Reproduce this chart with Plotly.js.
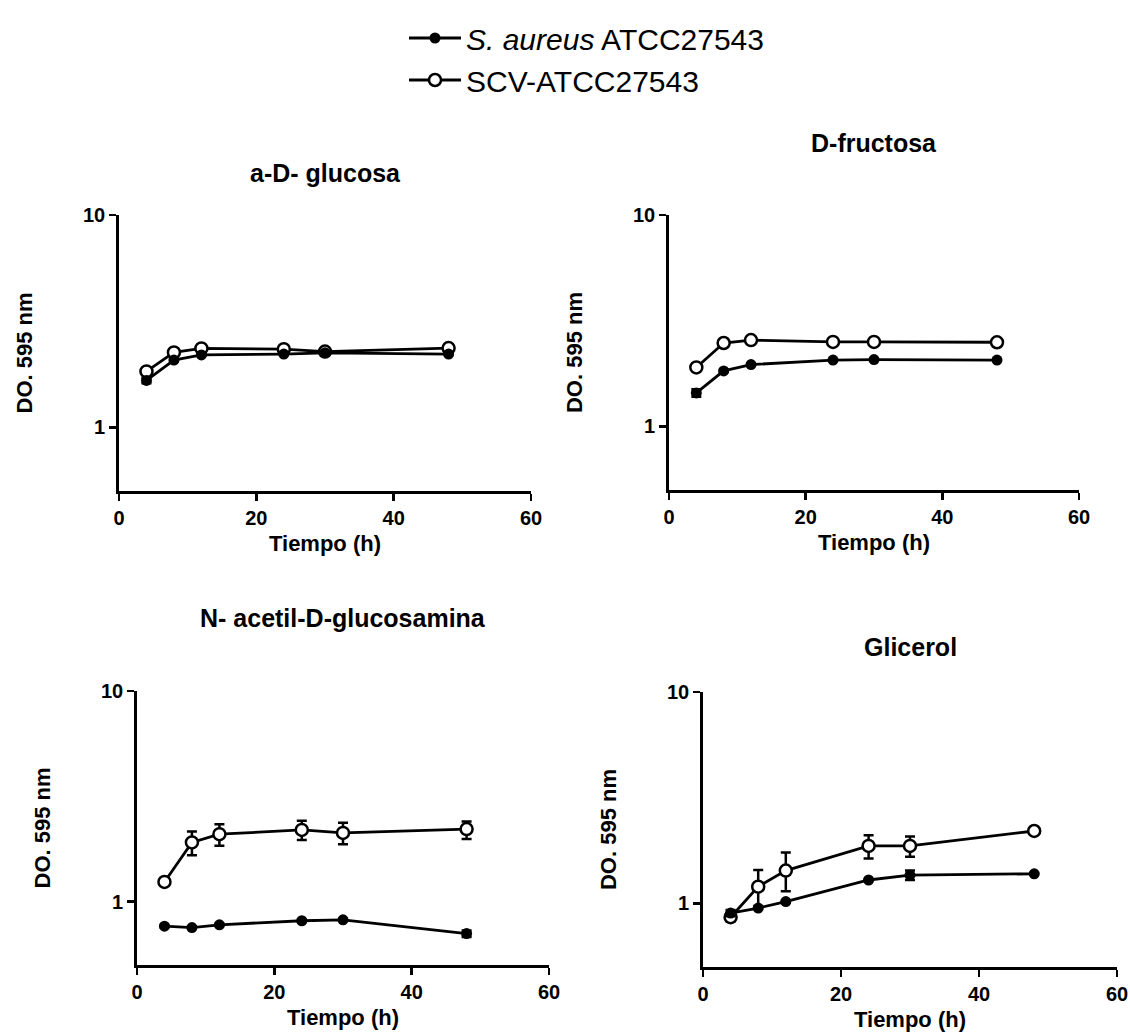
<!DOCTYPE html>
<html><head><meta charset="utf-8">
<script src="https://cdn.plot.ly/plotly-3.0.1.min.js"></script>
<style>html,body{margin:0;padding:0;background:#fff}</style>
</head><body>
<div id="chart" style="width:1130px;height:1033px"></div>
<script>
// ---- data ----
const timeH = [4, 8, 12, 24, 30, 48];
const panelTitles = ['a-D- glucosa', 'D-fructosa', 'N- acetil-D-glucosamina', 'Glicerol'];
const seriesNames = ['<i>S. aureus</i> ATCC27543', 'SCV-ATCC27543'];
const xTickVals = [0, 20, 40, 60];
const yTickVals = [1, 10];
const yTickText = ['1', '10'];
const xTitle = 'Tiempo (h)';
const yTitle = 'DO. 595 nm';

// a-D- glucosa
const glucosaWT = [1.66, 2.07, 2.19, 2.21, 2.24, 2.21];
const glucosaWTPlus = [0.05, 0.03, 0.02, 0.02, 0.02, 0.02];
const glucosaWTMinus = [0.05, 0.03, 0.02, 0.02, 0.02, 0.02];
const glucosaSCV = [1.83, 2.25, 2.35, 2.33, 2.27, 2.36];
const glucosaSCVPlus = [0.03, 0.03, 0.02, 0.02, 0.02, 0.02];
const glucosaSCVMinus = [0.03, 0.03, 0.02, 0.02, 0.02, 0.02];

// D-fructosa
const fructosaWT = [1.44, 1.83, 1.96, 2.06, 2.07, 2.06];
const fructosaWTPlus = [0.06, 0.02, 0.02, 0.02, 0.02, 0.02];
const fructosaWTMinus = [0.06, 0.02, 0.02, 0.02, 0.02, 0.02];
const fructosaSCV = [1.90, 2.48, 2.56, 2.51, 2.51, 2.50];
const fructosaSCVPlus = [0.02, 0.02, 0.02, 0.02, 0.02, 0.02];
const fructosaSCVMinus = [0.02, 0.02, 0.02, 0.02, 0.02, 0.02];

// N- acetil-D-glucosamina
const nagWT = [0.764, 0.753, 0.776, 0.811, 0.819, 0.705];
const nagWTPlus = [0.01, 0.01, 0.01, 0.01, 0.01, 0.025];
const nagWTMinus = [0.01, 0.01, 0.01, 0.01, 0.01, 0.025];
const nagSCV = [1.24, 1.91, 2.09, 2.19, 2.12, 2.21];
const nagSCVPlus = [0.02, 0.24, 0.24, 0.23, 0.25, 0.19];
const nagSCVMinus = [0.02, 0.25, 0.25, 0.23, 0.25, 0.23];

// Glicerol
const glicerolWT = [0.90, 0.95, 1.02, 1.29, 1.36, 1.38];
const glicerolWTPlus = [0.03, 0.01, 0.01, 0.01, 0.07, 0.01];
const glicerolWTMinus = [0.03, 0.01, 0.01, 0.01, 0.07, 0.01];
const glicerolSCV = [0.86, 1.20, 1.43, 1.87, 1.87, 2.20];
const glicerolSCVPlus = [0.04, 0.24, 0.31, 0.23, 0.20, 0.05];
const glicerolSCVMinus = [0.04, 0.23, 0.29, 0.24, 0.21, 0.05];

// ---- build ----
const W = 1130, H = 1033;
const FONT = 'Arial, "Liberation Sans", sans-serif';
const panels = [
  {wt: glucosaWT, wtP: glucosaWTPlus, wtM: glucosaWTMinus, scv: glucosaSCV, scvP: glucosaSCVPlus, scvM: glucosaSCVMinus,
   x0: 119, x1: 531, yTop: 215, yBot: 491, tx: 325, ty: 173},
  {wt: fructosaWT, wtP: fructosaWTPlus, wtM: fructosaWTMinus, scv: fructosaSCV, scvP: fructosaSCVPlus, scvM: fructosaSCVMinus,
   x0: 669, x1: 1079, yTop: 215, yBot: 490, tx: 874, ty: 143},
  {wt: nagWT, wtP: nagWTPlus, wtM: nagWTMinus, scv: nagSCV, scvP: nagSCVPlus, scvM: nagSCVMinus,
   x0: 137, x1: 549, yTop: 691, yBot: 965, tx: 343, ty: 618},
  {wt: glicerolWT, wtP: glicerolWTPlus, wtM: glicerolWTMinus, scv: glicerolSCV, scvP: glicerolSCVPlus, scvM: glicerolSCVMinus,
   x0: 703, x1: 1117, yTop: 692, yBot: 967, tx: 910, ty: 647}
];

const traces = [];
const layout = {
  width: W, height: H,
  margin: {l: 0, r: 0, t: 0, b: 0},
  paper_bgcolor: '#fff', plot_bgcolor: '#fff',
  font: {family: FONT, color: '#000'},
  showlegend: true,
  legend: {
    x: 404 / W, y: 1 - 12 / H, xanchor: 'left', yanchor: 'top',
    font: {family: FONT, size: 30, color: '#000'},
    itemwidth: 52, tracegroupgap: 0, bgcolor: 'rgba(0,0,0,0)'
  },
  annotations: []
};

panels.forEach((p, i) => {
  const n = i === 0 ? '' : String(i + 1);
  const xa = 'x' + n, ya = 'y' + n;
  const errStyle = {type: 'data', symmetric: false, color: '#000', thickness: 2.5, width: 5};
  traces.push({
    x: timeH, y: p.scv, xaxis: xa, yaxis: ya, type: 'scatter', mode: 'lines+markers',
    name: seriesNames[1], legendgroup: 'scv', legendrank: 2, showlegend: i === 0,
    line: {color: '#000', width: 2.8},
    marker: {symbol: 'circle', size: 12, color: '#fff', line: {color: '#000', width: 2.5}},
    error_y: Object.assign({array: p.scvP, arrayminus: p.scvM}, errStyle)
  });
  traces.push({
    x: timeH, y: p.wt, xaxis: xa, yaxis: ya, type: 'scatter', mode: 'lines+markers',
    name: seriesNames[0], legendgroup: 'wt', legendrank: 1, showlegend: i === 0,
    line: {color: '#000', width: 2.8},
    marker: {symbol: 'circle', size: 11, color: '#000'},
    error_y: Object.assign({array: p.wtP, arrayminus: p.wtM}, errStyle)
  });
  const tickFont = {family: FONT, size: 20, weight: 'bold', color: '#000'};
  const titleFont = {family: FONT, size: 22, weight: 'bold', color: '#000'};
  layout['xaxis' + n] = {
    domain: [p.x0 / W, p.x1 / W], anchor: ya, range: [0, 60],
    tickmode: 'array', tickvals: xTickVals, ticks: 'outside', ticklen: 7, tickwidth: 2.8, tickcolor: '#000',
    showline: true, linecolor: '#000', linewidth: 2.8, showgrid: false, zeroline: false,
    tickfont: tickFont, fixedrange: true,
    title: {text: xTitle, font: titleFont, standoff: 8}
  };
  layout['yaxis' + n] = {
    domain: [1 - p.yBot / H, 1 - p.yTop / H], anchor: xa, type: 'log', range: [Math.log10(0.5), 1],
    tickmode: 'array', tickvals: yTickVals, ticktext: yTickText, ticks: 'outside', ticklen: 7, tickwidth: 2.8, tickcolor: '#000',
    showline: true, linecolor: '#000', linewidth: 2.8, showgrid: false, zeroline: false,
    tickfont: tickFont, fixedrange: true,
    title: {text: yTitle, font: titleFont, standoff: 45}
  };
  layout.annotations.push({
    text: panelTitles[i], xref: 'paper', yref: 'paper', x: p.tx / W, y: 1 - p.ty / H,
    xanchor: 'center', yanchor: 'middle', showarrow: false,
    font: {family: FONT, size: 25, weight: 'bold', color: '#000'}
  });
});

Plotly.newPlot('chart', traces, layout, {displayModeBar: false, staticPlot: true});
</script>
</body></html>
